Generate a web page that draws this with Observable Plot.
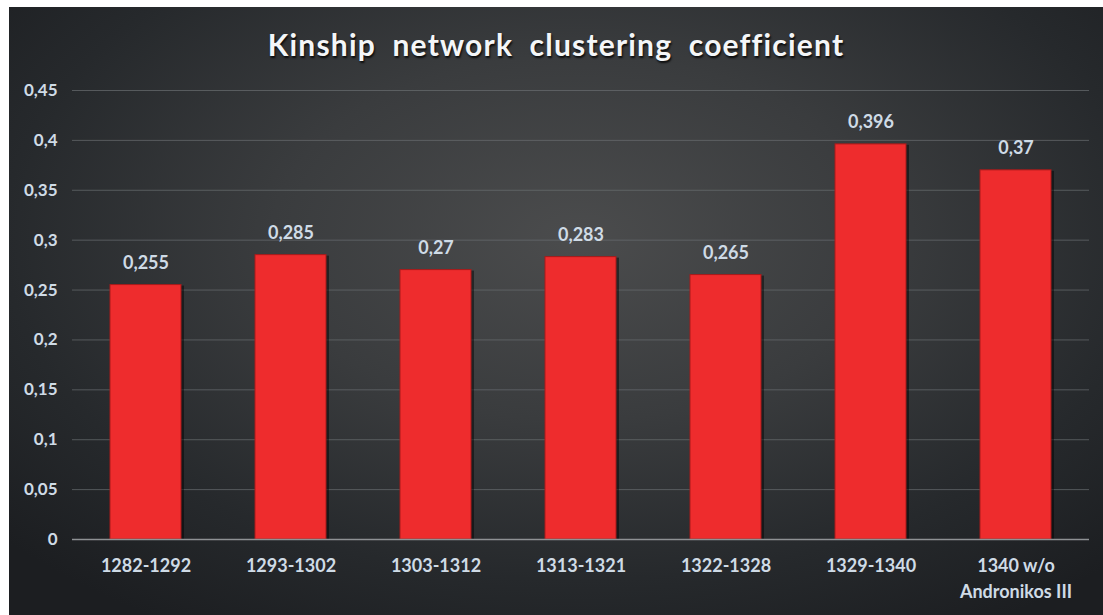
<!DOCTYPE html>
<html>
<head>
<meta charset="utf-8">
<script src="https://cdn.jsdelivr.net/npm/d3@7"></script>
<script src="https://cdn.jsdelivr.net/npm/@observablehq/plot@0.6"></script>
<style>
  html, body { margin: 0; padding: 0; background: #ffffff; }
  #wrap {
    position: absolute; left: 9px; top: 7px; width: 1094px; height: 608px;
    background: radial-gradient(ellipse 70% 75% at 52% 38%, #4b4c4d 0%, #3a3c3e 40%, #26292c 75%, #1c1e21 100%);
    overflow: hidden;
  }
  #title {
    height: 60px; box-sizing: border-box; padding-top: 22px;
    text-align: center; font-family: Lato, sans-serif; font-weight: 700;
    font-size: 30px; line-height: 30px; color: #f4f6f8; letter-spacing: 1.2px; word-spacing: 8px;
    text-shadow: 1px 2px 2px rgba(0,0,0,0.8);
  }
  svg { display: block; }
</style>
</head>
<body>
<div id="wrap">
  <div id="title">Kinship network clustering coefficient</div>
  <div id="chart"></div>
</div>
<script>
const periods = ["1282-1292", "1293-1302", "1303-1312", "1313-1321", "1322-1328", "1329-1340", "1340 w/o\nAndronikos III"];
const coefficients = [0.255, 0.285, 0.27, 0.283, 0.265, 0.396, 0.37];
const yTicks = [0, 0.05, 0.1, 0.15, 0.2, 0.25, 0.3, 0.35, 0.4, 0.45];

const data = periods.map((p, i) => ({period: p, value: coefficients[i]}));
const comma = v => String(v).replace(".", ",");
const textColor = "#cfdbe6";

const chart = Plot.plot({
  width: 1094,
  height: 548,
  marginLeft: 63,
  marginRight: 14,
  marginTop: 23,
  marginBottom: 76,
  style: {background: "transparent", fontFamily: "Lato, sans-serif", fontWeight: 700, fontSize: "17px", color: textColor},
  x: {domain: periods, paddingInner: 0.51, paddingOuter: 0.255, label: null},
  y: {domain: [0, 0.45], label: null},
  marks: [
    Plot.gridY(yTicks, {stroke: "#6a6d70", strokeOpacity: 0.7, strokeWidth: 1}),
    Plot.axisY({ticks: yTicks, tickFormat: comma, tickSize: 0, tickPadding: 15, fill: textColor, fontSize: 17, fontWeight: 700, label: null}),
    Plot.axisX({tickSize: 0, tickPadding: 14, fill: textColor, fontSize: 18, fontWeight: 700, lineHeight: 1.45, label: null}),
    Plot.barY(data, {x: "period", y: "value", fill: "#000000", fillOpacity: 0.45, dx: 3, dy: 1}),
    Plot.barY(data, {x: "period", y: "value", fill: "#ee2c2d", stroke: "#a81a1a", strokeWidth: 1}),
    Plot.ruleY([0], {stroke: "#8e9194", strokeWidth: 1.5}),
    Plot.text(data, {x: "period", y: "value", text: d => comma(d.value), dy: -22, fill: textColor, fontSize: 18, fontWeight: 700})
  ]
});
document.getElementById("chart").appendChild(chart);
</script>
</body>
</html>
